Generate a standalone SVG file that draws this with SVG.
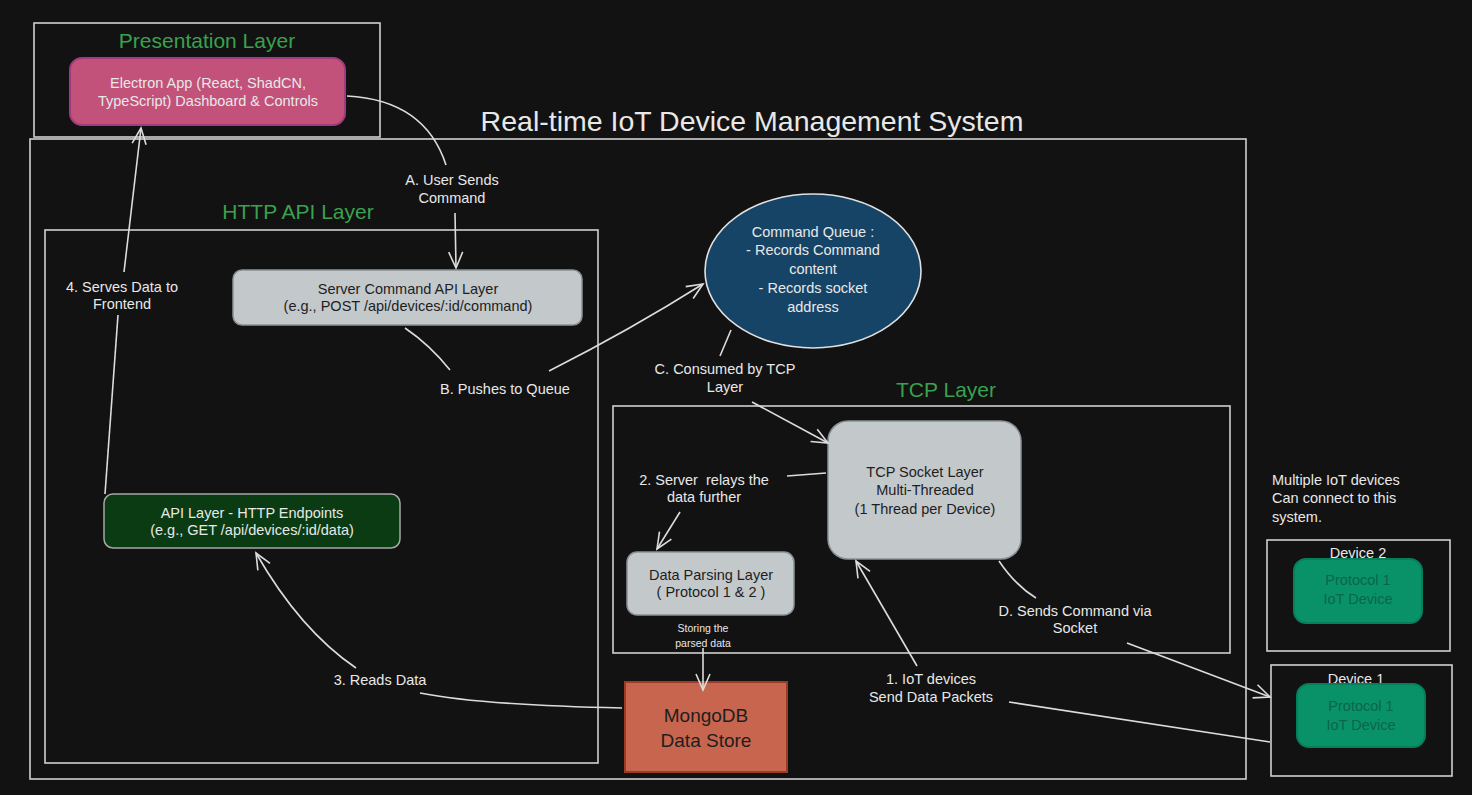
<svg xmlns="http://www.w3.org/2000/svg" width="1472" height="795" viewBox="0 0 1472 795">
<style>
text{font-family:"Liberation Sans","DejaVu Sans",sans-serif;text-anchor:middle;white-space:pre}
.frame{fill:none;stroke:#d0d0d0;stroke-width:1.6}
.gtitle{fill:#3aa14e;font-size:21px}
.lbl{fill:#e8e8e8;font-size:14.5px}
.dark{fill:#1e1e1e;font-size:14.5px}
.light{fill:#e8e8e8;font-size:14.5px}
.conn{fill:none;stroke:#dcdcdc;stroke-width:1.6}
.ah{fill:none;stroke:#dcdcdc;stroke-width:1.6}
</style>
<defs>
<marker id="arr" viewBox="0 0 20 20" refX="18" refY="10" markerWidth="20" markerHeight="20" markerUnits="userSpaceOnUse" orient="auto">
<path d="M2,3 L18,10 L2,17" class="ah"/>
</marker>
</defs>
<rect width="1472" height="795" fill="#121212"/>

<g id="presentation-layer">
<rect class="frame" x="34" y="23" width="346" height="114"/>
<text class="gtitle" x="207" y="48">Presentation Layer</text>
</g>
<g id="electron-app">
<rect x="70" y="58" width="275" height="67" rx="12" fill="#c2527a" stroke="#a13a83" stroke-width="2"/>
<text class="light" x="208" y="88">Electron App (React, ShadCN,</text>
<text class="light" x="208" y="106">TypeScript) Dashboard &amp; Controls</text>
</g>

<g id="system">
<text x="752" y="131" fill="#e8e8e8" font-size="28.5">Real-time IoT Device Management System</text>
<rect class="frame" x="30" y="139" width="1216" height="640"/>
</g>

<g id="http-api-layer">
<text class="gtitle" x="298" y="219">HTTP API Layer</text>
<rect class="frame" x="45" y="230" width="553" height="533"/>
</g>
<g id="server-command">
<rect x="233" y="270" width="349" height="55" rx="9" fill="#c3c8cb" stroke="#8a9196" stroke-width="1.5"/>
<text class="dark" x="408" y="294">Server Command API Layer</text>
<text class="dark" x="408" y="311">(e.g., POST /api/devices/:id/command)</text>
</g>
<g id="api-endpoints">
<rect x="104" y="494" width="296" height="54" rx="9" fill="#0a3b12" stroke="#a8a8a8" stroke-width="1.5"/>
<text class="light" x="252" y="518">API Layer - HTTP Endpoints</text>
<text class="light" x="252" y="535">(e.g., GET /api/devices/:id/data)</text>
</g>

<g id="command-queue">
<ellipse cx="813" cy="271" rx="108" ry="77" fill="#164466" stroke="#e0e0e0" stroke-width="1.6"/>
<text class="light" x="813" y="237">Command Queue :</text>
<text class="light" x="813" y="255">- Records Command</text>
<text class="light" x="813" y="274">content</text>
<text class="light" x="813" y="293">- Records socket</text>
<text class="light" x="813" y="312">address</text>
</g>

<g id="tcp-layer">
<text class="gtitle" x="946" y="397">TCP Layer</text>
<rect class="frame" x="613" y="406" width="617" height="247"/>
</g>
<g id="tcp-socket">
<rect x="828" y="421" width="193" height="138" rx="20" fill="#c3c8cb" stroke="#8a9196" stroke-width="1.5"/>
<text class="dark" x="925" y="477">TCP Socket Layer</text>
<text class="dark" x="925" y="495">Multi-Threaded</text>
<text class="dark" x="925" y="514">(1 Thread per Device)</text>
</g>
<g id="data-parsing">
<rect x="627" y="552" width="167" height="63" rx="10" fill="#c3c8cb" stroke="#8a9196" stroke-width="1.5"/>
<text class="dark" x="711" y="580">Data Parsing Layer</text>
<text class="dark" x="711" y="597">( Protocol 1 &amp; 2 )</text>
</g>
<g id="mongodb">
<rect x="625" y="682" width="162" height="90" fill="#c8654e" stroke="#9b3a26" stroke-width="2"/>
<text x="706" y="722" fill="#1e1e1e" font-size="19">MongoDB</text>
<text x="706" y="747" fill="#1e1e1e" font-size="19">Data Store</text>
</g>

<g id="devices-note">
<text class="lbl" x="1272" y="485" style="text-anchor:start">Multiple IoT devices</text>
<text class="lbl" x="1272" y="503" style="text-anchor:start">Can connect to this</text>
<text class="lbl" x="1272" y="522" style="text-anchor:start">system.</text>
</g>
<g id="device-2">
<rect class="frame" x="1267" y="540" width="183" height="111"/>
<text class="lbl" x="1358" y="558">Device 2</text>
<rect x="1294" y="559" width="128" height="64" rx="12" fill="#099268" stroke="#087f5b" stroke-width="2"/>
<text x="1358" y="585" fill="#0b6549" font-size="14.5">Protocol 1</text>
<text x="1358" y="604" fill="#0b6549" font-size="14.5">IoT Device</text>
</g>
<g id="device-1">
<rect class="frame" x="1271" y="665" width="181" height="111"/>
<text class="lbl" x="1356" y="684">Device 1</text>
<rect x="1297" y="684" width="128" height="63" rx="12" fill="#099268" stroke="#087f5b" stroke-width="2"/>
<text x="1361" y="711" fill="#0b6549" font-size="14.5">Protocol 1</text>
<text x="1361" y="730" fill="#0b6549" font-size="14.5">IoT Device</text>
</g>

<g id="connectors">
<path class="conn" d="M347,96 Q425,100 446,165"/>
<path class="conn" d="M455,213 L456,268" marker-end="url(#arr)"/>
<path class="conn" d="M405,328 Q430,345 450,370"/>
<path class="conn" d="M549,371 Q630,330 703,284" marker-end="url(#arr)" stroke-width="2.2"/>
<path class="conn" d="M731,330 L720,356"/>
<path class="conn" d="M752,402 L828,443" marker-end="url(#arr)"/>
<path class="conn" d="M826,473 L787,476"/>
<path class="conn" d="M680,512 L657,549" marker-end="url(#arr)"/>
<path class="conn" d="M703,648 L703,690" marker-end="url(#arr)"/>
<path class="conn" d="M622,708 Q480,705 420,693"/>
<path class="conn" d="M356,668 Q300,630 256,553" marker-end="url(#arr)"/>
<path class="conn" d="M105,494 L118,315"/>
<path class="conn" d="M124,272 L141,128" marker-end="url(#arr)"/>
<path class="conn" d="M1270,742 L1009,702"/>
<path class="conn" d="M917,666 L856,561" marker-end="url(#arr)"/>
<path class="conn" d="M999,561 Q1015,585 1036,598"/>
<path class="conn" d="M1127,643 L1270,697" marker-end="url(#arr)" stroke-width="2.2"/>
<text class="lbl" x="452" y="185">A. User Sends</text>
<text class="lbl" x="452" y="203">Command</text>
<text class="lbl" x="505" y="394">B. Pushes to Queue</text>
<text class="lbl" x="725" y="374">C. Consumed by TCP</text>
<text class="lbl" x="725" y="392">Layer</text>
<text class="lbl" x="704" y="485">2. Server  relays the</text>
<text class="lbl" x="704" y="502">data further</text>
<text x="703" y="632" fill="#e8e8e8" font-size="10.5">Storing the</text>
<text x="703" y="647" fill="#e8e8e8" font-size="10.5">parsed data</text>
<text class="lbl" x="380" y="685">3. Reads Data</text>
<text class="lbl" x="122" y="292">4. Serves Data to</text>
<text class="lbl" x="122" y="309">Frontend</text>
<text class="lbl" x="931" y="684">1. IoT devices</text>
<text class="lbl" x="931" y="702">Send Data Packets</text>
<text class="lbl" x="1075" y="616">D. Sends Command via</text>
<text class="lbl" x="1075" y="633">Socket</text>
</g>
</svg>
